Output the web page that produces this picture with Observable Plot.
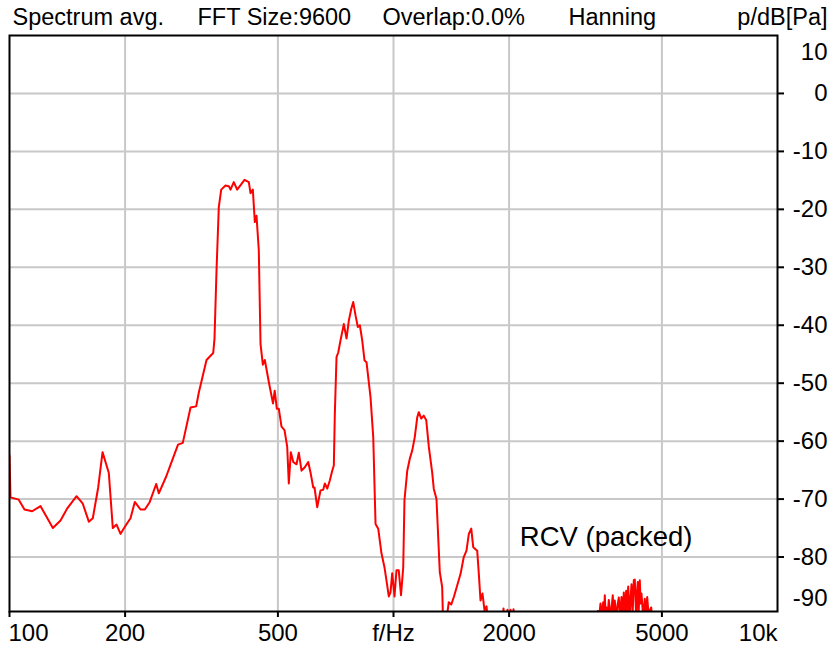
<!DOCTYPE html>
<html>
<head>
<meta charset="utf-8">
<script src="https://cdn.jsdelivr.net/npm/d3@7"></script>
<script src="https://cdn.jsdelivr.net/npm/@observablehq/plot@0.6"></script>
<style>
  html, body { margin: 0; padding: 0; background: #ffffff; }
</style>
</head>
<body>
<div id="chart"></div>
<script>
// Spectrum (frequency in Hz, level in dB re Pa)
const freqHz = [
  100, 100.6, 105.7, 109.4, 114.6, 120.4, 129.7, 135.8, 141.4, 149.5,
  155.2, 160.9, 164.8, 170.2, 174.7, 181.4, 185.8, 190.0, 194.6, 200.5,
  206.6, 212.0, 219.4, 225.1, 231.5, 241.0, 244.8, 255.9, 262.6, 274.7,
  282.7, 296.1, 306.3, 311.2, 325.9, 339.2, 341.9, 346.0, 350.8, 355.9,
  365.2, 372.5, 376.3, 383.8, 391.7, 409.3, 420.0, 424.3, 430.2, 435.4,
  439.8, 445.9, 450.5, 456.8, 462.3, 473.5, 485.6, 490.5, 496.7, 502.7,
  510.9, 520.2, 528.7, 533.8, 540.3, 548.1, 559.1, 566.8, 576.1, 587.6,
  599.7, 608.0, 618.0, 622.8, 632.9, 645.6, 656.1, 662.5, 672.1, 682.6,
  692.5, 699.2, 703.4, 710.6, 717.9, 727.9, 742.4, 754.5, 765.0, 776.1,
  785.5, 796.4, 807.5, 817.2, 829.0, 840.6, 850.7, 871.3, 885.6, 897.9,
  912.5, 930.6, 947.5, 962.9, 972.2, 982.2, 992.2, 1006, 1018, 1032,
  1046, 1060, 1068, 1086, 1103, 1119, 1136, 1153, 1164, 1181,
  1199, 1217, 1236, 1261, 1273, 1294, 1320, 1339, 1347, 1366,
  1393, 1414, 1436, 1465, 1495, 1524, 1549, 1571, 1594, 1613,
  1652, 1668, 1685, 1705, 1726, 1747, 1760, 1800, 1920, 1934,
  1950, 1981, 2000, 2017, 2035, 2054, 2080, 3380,
  3390, 3405, 3430, 3460, 3490, 3516, 3535, 3550, 3570, 3586,
  3610, 3636, 3674, 3700, 3724, 3745, 3769, 3808, 3835, 3861,
  3890, 3924, 3950, 3979, 4005, 4036, 4060, 4085, 4124, 4145,
  4167, 4195, 4225, 4250, 4286, 4305, 4327, 4350, 4379, 4400,
  4424, 4469, 4490, 4512, 4545, 4578, 4622, 4650, 4688, 4717,
  4800, 10000
];
const levelDb = [
  -62.5, -69.7, -70.1, -71.8, -72.1, -71.2, -75.0, -73.7, -71.6, -69.5,
  -70.8, -73.9, -73.3, -68.0, -61.9, -65.5, -75.0, -74.4, -76.0, -74.6,
  -73.3, -70.5, -71.8, -71.8, -70.6, -67.4, -69.0, -66.1, -64.1, -60.6,
  -60.3, -54.2, -54.0, -51.6, -46.0, -44.8, -42.3, -30.6, -19.6, -16.6,
  -15.9, -16.0, -16.6, -15.3, -16.6, -14.9, -15.3, -17.2, -16.6, -22.2,
  -21.1, -27.1, -43.2, -46.8, -46.0, -49.8, -53.5, -51.3, -54.4, -54.4,
  -57.5, -58.1, -61.0, -67.3, -61.9, -63.6, -64.0, -62.0, -65.1, -64.5,
  -63.6, -65.4, -68.0, -68.0, -71.4, -68.5, -68.4, -67.3, -68.2, -66.8,
  -65.1, -64.2, -55.3, -45.5, -44.7, -42.6, -39.8, -42.3, -39.2, -37.2,
  -36.0, -38.3, -40.3, -40.0, -42.6, -46.1, -46.4, -52.4, -59.3, -74.3,
  -75.1, -79.4, -81.8, -84.9, -86.8, -86.1, -82.8, -86.8, -82.3, -82.3,
  -86.6, -81.8, -70.2, -65.1, -63.0, -61.6, -59.3, -55.9, -55.0, -56.1,
  -55.6, -56.4, -61.0, -65.4, -68.2, -70.0, -82.6, -85.2, -92.0, -92.0,
  -87.8, -88.2, -86.9, -84.9, -82.9, -80.0, -78.9, -76.0, -75.1, -78.3,
  -78.9, -82.9, -87.5, -86.3, -89.2, -88.5, -91.0, -96.0, -92.0, -88.9,
  -92.0, -89.1, -92.0, -89.1, -92.0, -89.0, -96.0, -96.0,
  -92.0, -89.3, -90.5, -88.0, -90.3, -87.8, -90.2, -86.6, -90.4, -88.7,
  -90.4, -87.4, -90.5, -88.5, -86.6, -90.3, -87.5, -90.5, -88.2, -87.0,
  -90.4, -86.9, -90.2, -86.1, -90.0, -85.8, -89.8, -85.1, -90.5, -87.0,
  -84.7, -89.9, -84.0, -83.9, -90.5, -86.5, -84.3, -89.6, -84.0, -88.0,
  -86.3, -90.5, -88.8, -87.2, -90.2, -86.9, -90.5, -89.2, -88.7, -90.5,
  -96.0, -96.0
];

// Axis ticks and labels
const xTickValues = [100, 200, 500, 1000, 2000, 5000, 10000];
const xTickLabels = ["100", "200", "500", "f/Hz", "2000", "5000", "10k"];
const xGridValues = [200, 500, 1000, 2000, 5000];
const yTickValues = [10, 0, -10, -20, -30, -40, -50, -60, -70, -80, -90];
const yGridValues = [0, -10, -20, -30, -40, -50, -60, -70, -80];

const titleParts = ["Spectrum avg.", "FFT Size:9600", "Overlap:0.0%", "Hanning"];
const unitLabel = "p/dB[Pa]";
const seriesLabel = "RCV (packed)";

const data = freqHz.map((f, i) => ({f, db: levelDb[i]}));
const xLab = xTickValues.map((v, i) => ({v, t: xTickLabels[i]}));
const yLab = yTickValues.map(v => ({v, t: String(v)}));

const FONT = "'Liberation Sans', Arial, Helvetica, sans-serif";
const titleOffsets = [3, 188, 373, 559];

const chart = Plot.plot({
  width: 830,
  height: 650,
  marginLeft: 9,
  marginRight: 53,
  marginTop: 35,
  marginBottom: 39,
  style: {fontFamily: FONT, background: "#ffffff", color: "#000000", overflow: "visible"},
  x: {type: "log", domain: [100, 10000], axis: null},
  y: {domain: [-89.4, 10], axis: null},
  marks: [
    Plot.ruleX(xGridValues, {stroke: "#c8c8c8", strokeWidth: 2}),
    Plot.ruleY(yGridValues, {stroke: "#c8c8c8", strokeWidth: 2}),
    Plot.line(data, {x: "f", y: "db", stroke: "#ff0000", strokeWidth: 2, clip: true}),
    Plot.frame({stroke: "#000000", strokeWidth: 2}),
    Plot.axisX({anchor: "bottom", ticks: xTickValues.slice(0, 6), tickSize: 6, tickFormat: () => "", strokeWidth: 2, label: null}),
    Plot.axisY({anchor: "right", ticks: yGridValues, tickSize: 6, tickFormat: () => "", strokeWidth: 2, label: null}),
    // x labels
    Plot.text(xLab.slice(1, 6), {x: "v", text: "t", frameAnchor: "bottom", dy: 22, fontSize: 24, lineAnchor: "middle", fill: "#000"}),
    Plot.text(xLab.slice(0, 1), {x: "v", text: "t", frameAnchor: "bottom", dy: 22, dx: -1, textAnchor: "start", fontSize: 24, lineAnchor: "middle", fill: "#000"}),
    Plot.text(xLab.slice(6), {x: "v", text: "t", frameAnchor: "bottom", dy: 22, textAnchor: "end", fontSize: 24, lineAnchor: "middle", fill: "#000"}),
    // y labels
    Plot.text(yLab.slice(1, 10), {y: "v", text: "t", frameAnchor: "right", dx: 50, textAnchor: "end", fontSize: 24, lineAnchor: "middle", fill: "#000"}),
    Plot.text(yLab.slice(0, 1), {y: "v", text: "t", frameAnchor: "right", dx: 50, dy: 17, textAnchor: "end", fontSize: 24, lineAnchor: "middle", fill: "#000"}),
    Plot.text(yLab.slice(10), {y: "v", text: "t", frameAnchor: "right", dx: 50, dy: -17, textAnchor: "end", fontSize: 24, lineAnchor: "middle", fill: "#000"}),
    // title
    ...titleParts.map((t, i) => Plot.text([t], {text: d => d, frameAnchor: "top-left", dx: titleOffsets[i], dy: -18, textAnchor: "start", lineAnchor: "middle", fontSize: 23.5, fill: "#000"})),
    Plot.text([unitLabel], {text: d => d, frameAnchor: "top-right", dx: 50, dy: -18, textAnchor: "end", lineAnchor: "middle", fontSize: 23.5, fill: "#000"}),
    Plot.text([seriesLabel], {text: d => d, frameAnchor: "bottom-right", dx: -85, dy: -74, textAnchor: "end", lineAnchor: "middle", fontSize: 27.5, fill: "#000"})
  ]
});
document.getElementById("chart").appendChild(chart);
</script>
</body>
</html>
